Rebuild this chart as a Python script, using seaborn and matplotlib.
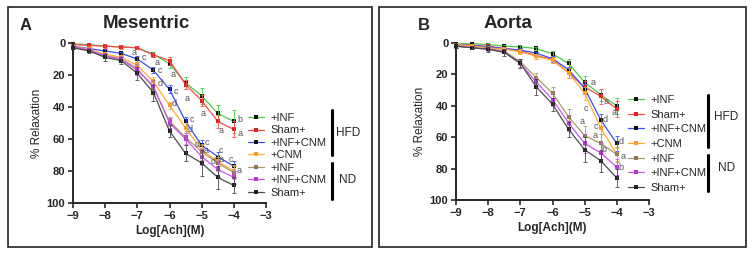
import numpy as np
import pandas as pd
import matplotlib.pyplot as plt
import seaborn as sns
from matplotlib.lines import Line2D
from matplotlib.patches import Rectangle

sns.set_style("ticks")
plt.rcParams["font.family"] = ["Liberation Sans", "DejaVu Sans"]

# DATA
log_ach = [-9, -8.5, -8, -7.5, -7, -6.5, -6, -5.5, -5, -4.5, -4]
series_labels = ["+INF", "Sham+", "+INF+CNM", "+CNM", "+INF", "+INF+CNM", "Sham+"]
colors = ["#44cc44", "#ff4a4a", "#3a4bff", "#ffaa33", "#a89a6a", "#cc55ee", "#4a4a4a"]
marker_colors = ["#111111", "#dd2222", "#111111", "#ff9922", "#8a7a4a", "#bb33dd", "#222222"]

# Mesentric (% relaxation)
mes_inf_hfd = [0.5, 1, 2, 2.5, 3, 7, 13, 25, 33, 44, 49]
mes_sham_hfd = [1, 1.5, 2, 2.5, 3, 7.5, 11, 26, 36, 49, 54]
mes_infcnm_hfd = [2, 3.5, 5, 6.5, 10, 17, 29, 49, 64, 71, 77]
mes_cnm_hfd = [2, 4, 7, 9, 14, 24, 39, 53, 67, 74, 80]
mes_inf_nd = [2, 4.5, 8, 10, 16, 28, 49, 59, 68, 75, 81]
mes_infcnm_nd = [2.5, 4.5, 8, 10, 17, 27, 50, 60, 71, 79, 84]
mes_sham_nd = [3, 5, 9, 11, 19, 31, 55, 69, 75, 84, 89]

mes_err = [
    [0.5, 0.5, 0.5, 0.5, 1, 1.5, 2.5, 4, 5, 5, 7],
    [0.5, 0.5, 1, 1, 1, 1.5, 2.5, 3, 3.5, 4, 5],
    [1, 1, 1, 1, 2, 2, 2.5, 3, 3.5, 3, 3],
    [1, 1, 1, 1, 2, 2.5, 2, 3, 3, 3, 4],
    [1, 1, 1.5, 2, 3, 4, 3, 4, 5, 5, 4],
    [1, 1, 1.5, 2, 3, 4, 3, 4, 5, 5, 4],
    [1, 1, 2, 2, 4, 5, 4, 5, 8, 7, 5],
]

# Aorta (% relaxation)
aor_inf_hfd = [0.5, 0.5, 1, 2, 2.5, 3.5, 7, 13, 25, 33, 40]
aor_sham_hfd = [1, 1.5, 2, 3.5, 5, 8, 10.5, 19, 28, 34, 42]
aor_infcnm_hfd = [1, 1.5, 2.5, 3.5, 4.5, 6.5, 10, 17, 29, 49, 64]
aor_cnm_hfd = [1, 2, 3, 4, 5.5, 8.5, 11, 19, 32, 54, 71]
aor_inf_nd = [2, 3, 3.5, 5, 12, 22, 32, 47, 59, 64, 71]
aor_infcnm_nd = [2, 3, 4, 5.5, 13, 25, 36, 51, 64, 70, 79]
aor_sham_nd = [2, 3, 4, 6, 13, 28, 39, 55, 68, 75, 86]

aor_err = [
    [0.5, 0.5, 1, 1, 1, 1, 2, 3, 4, 4, 5],
    [1, 1, 1, 1, 1.5, 2, 2, 3, 4, 5, 5],
    [0.5, 0.5, 1, 1, 1, 1, 2, 2, 3, 4, 5],
    [1, 1, 1, 1, 1.5, 1.5, 2, 3, 4, 4, 4],
    [1, 1, 1, 1, 2, 3, 4, 5, 6, 6, 5],
    [1, 1, 1, 1, 2, 3, 4, 5, 6, 6, 5],
    [1, 1, 1.5, 2, 3, 5, 4, 5, 8, 7, 6],
]

# significance letters (letter, logx, relaxation)
mes_letters = [
    ("a", -7.1, 6), ("c", -6.8, 9), ("a", -6.4, 12), ("c", -6.3, 17),
    ("a", -5.9, 19.5), ("d", -6.3, 25), ("c", -5.8, 30), ("d", -5.85, 38),
    ("a", -5.45, 34.5), ("c", -5.3, 48), ("d", -5.35, 54), ("a", -4.95, 44),
    ("d", -5.15, 63.5), ("c", -4.85, 62), ("a", -4.85, 67), ("a", -4.4, 54.5),
    ("c", -4.4, 67), ("a", -4.4, 72.5), ("d", -4.65, 74), ("b", -3.8, 48),
    ("a", -3.8, 56.5), ("c", -4.1, 72.5), ("a", -3.85, 79.5),
]
aor_letters = [
    ("a", -4.73, 25), ("a", -4.34, 37), ("a", -4.08, 44), ("c", -4.97, 42),
    ("d", -4.35, 48.5), ("c", -4.66, 53.5), ("d", -3.86, 63), ("a", -5.07, 50),
    ("a", -4.66, 59), ("b", -4.4, 68), ("a", -3.81, 72), ("b", -3.86, 79.5),
]

panels = [
    {"tag": "A", "title": "Mesentric",
     "values": [mes_inf_hfd, mes_sham_hfd, mes_infcnm_hfd, mes_cnm_hfd,
                mes_inf_nd, mes_infcnm_nd, mes_sham_nd],
     "err": mes_err, "letters": mes_letters,
     "rect": [73 / 753, 1 - 203 / 256, 193 / 753, 160 / 256]},
    {"tag": "B", "title": "Aorta",
     "values": [aor_inf_hfd, aor_sham_hfd, aor_infcnm_hfd, aor_cnm_hfd,
                aor_inf_nd, aor_infcnm_nd, aor_sham_nd],
     "err": aor_err, "letters": aor_letters,
     "rect": [456 / 753, 1 - 200 / 256, 193 / 753, 157 / 256]},
]

fig = plt.figure(figsize=(7.53, 2.56), dpi=100)

def px(x, y):
    return x / 753, 1 - y / 256

for p in panels:
    ax = fig.add_axes(p["rect"])
    for i, vals in enumerate(p["values"]):
        df = pd.DataFrame({"x": log_ach, "y": vals})
        sns.lineplot(data=df, x="x", y="y", ax=ax, color=colors[i], lw=0.9,
                     marker="s", markersize=2.2, markeredgewidth=0,
                     markerfacecolor=marker_colors[i], legend=False, clip_on=False)
        ax.errorbar(log_ach, vals, yerr=p["err"][i], fmt="none", ecolor=colors[i],
                    elinewidth=0.6, capsize=1.5, capthick=0.6, clip_on=False)
    for t, lx, ly in p["letters"]:
        ax.text(lx, ly, t, fontsize=6.5, color="#555555", ha="center", va="center")
    ax.set_xlim(-9, -3)
    ax.set_ylim(100, 0)
    ax.set_xticks(range(-9, -2))
    ax.set_yticks(range(0, 101, 20))
    sns.despine(ax=ax)
    for s in ["left", "bottom"]:
        ax.spines[s].set_linewidth(1.4)
    ax.tick_params(width=1.2, length=3.5, labelsize=8, pad=2)
    for lab in ax.get_xticklabels() + ax.get_yticklabels():
        lab.set_fontweight("bold")
    ax.set_xlabel("Log[Ach](M)", fontsize=8.5, fontweight="bold", labelpad=3)
    ax.set_ylabel("% Relaxation", fontsize=8.5, labelpad=3)
    p["ax"] = ax

# panel frames
fig.add_artist(Rectangle(px(8, 247), 364 / 753, 240 / 256, transform=fig.transFigure,
                         fill=False, ec="#222222", lw=1.2))
fig.add_artist(Rectangle(px(379, 247), 367 / 753, 240 / 256, transform=fig.transFigure,
                         fill=False, ec="#222222", lw=1.2))

# titles
fig.text(*px(20, 25), "A", fontsize=12, fontweight="bold", va="center")
fig.text(*px(103, 23), "Mesentric", fontsize=13.5, fontweight="bold", va="center")
fig.text(*px(418, 25), "B", fontsize=12, fontweight="bold", va="center")
fig.text(*px(484, 23), "Aorta", fontsize=13.5, fontweight="bold", va="center")

# legends
def add_legend(anchor, spacing):
    handles = [Line2D([0], [0], color=colors[i], lw=0.9, marker="s", markersize=2.2,
                      markeredgewidth=0, markerfacecolor=marker_colors[i])
               for i in range(len(series_labels))]
    fig.legend(handles, series_labels, loc="upper left", bbox_to_anchor=anchor,
               bbox_transform=fig.transFigure, frameon=False, fontsize=8,
               handlelength=1.4, handletextpad=0.6, labelspacing=spacing,
               borderpad=0, borderaxespad=0)

add_legend(px(248, 113), 0.22)
add_legend(px(628, 95), 0.42)

# group brackets
def bracket(x, y0, y1, label, tx, ty):
    fig.add_artist(Line2D([x / 753, x / 753], [1 - y0 / 256, 1 - y1 / 256],
                          transform=fig.transFigure, color="black", lw=2.2))
    fig.text(*px(tx, ty), label, fontsize=8.5, va="center")

bracket(332, 110, 155, "HFD", 336, 133)
bracket(332, 163, 199, "ND", 339, 180)
bracket(708, 95, 147, "HFD", 714, 117)
bracket(708, 155, 191, "ND", 718, 168)

plt.savefig("out.png", dpi=100)
